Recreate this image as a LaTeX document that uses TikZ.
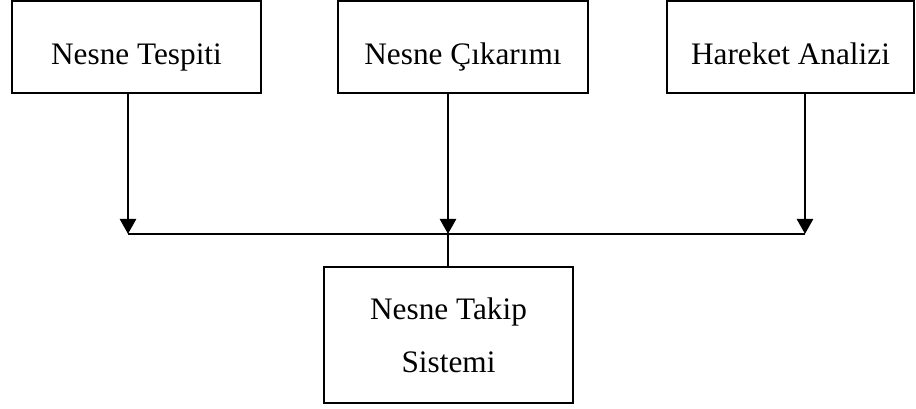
\documentclass[tikz,border=0pt]{standalone}
\usepackage{fontspec}
\setmainfont{Liberation Serif}
\usetikzlibrary{arrows.meta,positioning}

\begin{document}
\begin{tikzpicture}[
    blok/.style={draw,line width=1pt,inner sep=0pt,align=center,
      font=\fontsize{17.8}{30}\selectfont},
    ustblok/.style={blok,minimum height=1.84cm,text height=1.28cm,text depth=0.56cm},
    arr/.style={-{Triangle[length=0.3cm,width=0.32cm]},line width=1.5pt}
  ]
    \useasboundingbox (0,0) rectangle (18.32,8.18);
    \node[ustblok,minimum width=4.98cm] (tespit) at (2.73,7.24) {Nesne Tespiti};
    \node[ustblok,minimum width=5.0cm] (cikarim) at (9.26,7.24) {Nesne Çıkarımı};
    \node[ustblok,minimum width=4.94cm] (hareket) at (15.81,7.24) {Hareket Analizi};
    \node[blok,minimum width=4.98cm,minimum height=2.72cm] (takip) at (8.97,1.48)
      {Nesne Takip\\Sistemi};
    % birlesme noktalari
    \coordinate (j1) at (2.56,3.5);
    \coordinate (j2) at (8.96,3.5);
    \coordinate (j3) at (16.1,3.5);
    \foreach \a/\b in {tespit/j1,cikarim/j2,hareket/j3}\draw[arr](\a.south -| \b)--(\b);
    \draw[line width=1.5pt](j1)--(j3);
    \draw[line width=1.5pt](j2)--(takip.north -| j2);
  \end{tikzpicture}
\end{document}
